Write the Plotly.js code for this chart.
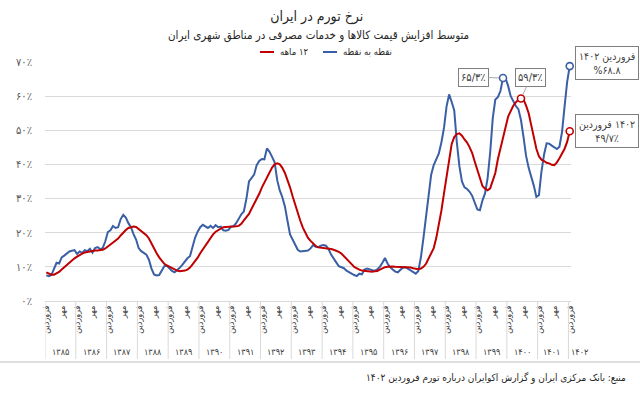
<!DOCTYPE html>
<html><head><meta charset="utf-8">
<script src="https://cdn.plot.ly/plotly-3.0.1.min.js"></script>
<style>html,body{margin:0;padding:0;background:#fff}#chart{width:640px;height:395px}</style>
</head><body><div id="chart"></div>
<script>
// ---- data ----
const years = ['۱۳۸۵','۱۳۸۶','۱۳۸۷','۱۳۸۸','۱۳۸۹','۱۳۹۰','۱۳۹۱','۱۳۹۲','۱۳۹۳','۱۳۹۴','۱۳۹۵','۱۳۹۶','۱۳۹۷','۱۳۹۸','۱۳۹۹','۱۴۰۰','۱۴۰۱','۱۴۰۲'];
const halfYearMonths = ['فروردین','مهر'];
const seriesNames = ['نقطه به نقطه','\u200Eماهه\u200E ۱۲'];

// monthly point-to-point inflation (%), Farvardin 1385 .. Farvardin 1402
const pointToPoint = [
  7.5, 7.3, 7.6, 9.5, 11.2, 11.0, 12.8, 13.3, 14.0, 14.5, 14.7, 14.9,
  13.8, 14.5, 14.1, 14.9, 14.6, 15.3, 14.2, 15.5, 15.8, 15.2, 15.5, 17.5,
  20.2, 20.7, 22.0, 21.4, 21.6, 24.0, 25.2, 24.4, 22.8, 21.6, 19.6, 18.0,
  15.5, 14.6, 14.1, 13.6, 12.1, 9.5, 7.8, 7.5, 7.6, 8.8, 10.2, 10.3,
  9.4, 8.8, 8.4, 9.0, 9.7, 10.6, 11.6, 12.5, 13.1, 15.8, 18.6, 20.3,
  21.6, 22.3, 21.8, 21.4, 22.0, 21.4, 22.2, 21.6, 21.8, 20.7, 20.6, 20.8,
  21.8, 21.9, 22.8, 24.2, 25.4, 26.2, 30.0, 35.0, 36.0, 37.0, 39.8, 41.0,
  41.6, 41.5, 44.7, 43.7, 42.2, 40.6, 35.4, 32.4, 30.4, 27.7, 23.5, 19.5,
  18.0, 16.5, 15.0, 14.5, 14.6, 14.5, 14.8, 15.4, 16.4, 15.9, 15.8, 16.2,
  16.4, 16.2, 15.2, 13.6, 12.3, 11.3, 10.2, 9.8, 9.6, 8.9, 8.4, 7.9,
  7.6, 7.3, 8.0, 7.8, 9.2, 9.5, 9.3, 9.0, 8.8, 9.3, 10.0, 11.2,
  12.6, 11.0, 9.9, 9.2, 8.6, 8.4, 9.1, 9.8, 9.9, 9.4, 8.9, 8.4,
  8.0, 8.8, 12.8, 18.5, 25.0, 32.0, 37.0, 39.8, 41.8, 43.2, 46.5, 50.7,
  57.0, 60.5, 58.3, 55.8, 46.5, 39.5, 35.0, 33.3, 32.8, 32.0, 30.8, 28.5,
  26.8, 26.6, 29.5, 31.5, 36.0, 43.5, 53.5, 59.0, 59.7, 61.5, 65.3, 65.2,
  63.0, 60.0, 58.6, 57.1, 56.2, 53.0, 48.0, 42.5, 39.0, 36.6, 33.8, 30.5,
  31.0, 38.0, 42.9, 46.2, 46.1, 45.5, 45.1, 44.5, 45.2, 49.5, 57.0, 64.2,
  68.8
];

// monthly 12-month average inflation (%)
const twelveMonth = [
  8.4, 8.0, 7.7, 7.7, 8.1, 8.5, 9.2, 9.9, 10.6, 11.3, 11.9, 12.5,
  13.0, 13.5, 13.9, 14.2, 14.4, 14.6, 14.7, 14.8, 14.8, 14.9, 15.0, 15.4,
  16.0, 16.5, 17.1, 17.7, 18.3, 19.2, 20.1, 20.8, 21.4, 21.7, 21.8, 21.7,
  21.1, 20.6, 20.0, 19.3, 18.3, 16.8, 15.3, 14.0, 12.8, 11.7, 10.9, 10.4,
  10.0, 9.6, 9.2, 8.9, 8.7, 8.7, 8.9, 9.2, 9.8, 10.7, 11.6, 12.7,
  14.0, 15.1, 16.0, 17.2, 18.5, 19.5, 20.3, 20.8, 21.3, 21.6, 21.7, 21.7,
  21.7, 21.8, 21.9, 22.0, 22.6, 23.6, 24.5, 25.5, 27.0, 28.4, 29.9, 31.4,
  33.2, 34.8, 36.4, 37.8, 39.1, 40.0, 40.3, 40.0, 39.0, 37.5, 35.5, 33.3,
  30.7, 28.2, 25.3, 23.5, 21.5, 19.8, 18.5, 17.6, 16.8, 16.1, 15.7, 15.6,
  15.6, 15.6, 15.5, 15.2, 15.0, 14.8, 14.4, 13.9, 13.2, 12.4, 11.6, 10.8,
  10.0, 9.5, 9.2, 8.9, 8.8, 8.8, 8.7, 8.6, 8.7, 8.8, 9.2, 9.6,
  9.9, 10.0, 10.1, 10.1, 10.0, 10.0, 10.0, 10.0, 10.0, 9.9, 9.8, 9.6,
  9.4, 9.3, 9.5, 10.0, 10.9, 12.4, 14.0, 15.5, 18.5, 22.0, 26.5, 31.5,
  36.5, 42.0, 46.0, 48.0, 48.9, 49.1, 48.4, 47.3, 46.4, 45.0, 43.3, 40.8,
  38.5, 35.8, 33.7, 32.9, 32.4, 33.0, 35.0, 37.5, 41.5, 44.7, 48.3, 51.2,
  54.0, 55.6, 57.2, 58.2, 59.0, 59.3, 59.0, 57.2, 55.0, 51.5, 48.0, 44.6,
  42.4, 41.4, 41.0, 40.5, 40.3, 39.9, 39.8, 40.6, 41.8, 43.0, 44.6, 46.6,
  49.7
];

const yTickValues = [0, 10, 20, 30, 40, 50, 60, 70];
const yTickLabels = ['۰٪','۱۰٪','۲۰٪','۳۰٪','۴۰٪','۵۰٪','۶۰٪','۷۰٪'];

// highlighted points (month index) and their labels
const blueHighlights = [178, 204];
const redHighlights = [185, 204];
const peakLabels = ['۶۵/۳٪', '۵۹/۳٪'];
const endLabelBlue = '\u200Fفروردین ۱۴۰۲<br>%۶۸.۸';
const endLabelRed = '\u200Eفروردین\u200E ۱۴۰۲<br>۴۹/۷٪';
const titleText = 'نرخ تورم در ایران';
const subtitleText = 'متوسط افزایش قیمت کالاها و خدمات مصرفی در مناطق شهری ایران';
const sourceText = 'منبع: بانک مرکزی ایران و گزارش اکوایران درباره تورم فروردین ۱۴۰۲';

// ---- build ----
const FONT = '"DejaVu Sans Condensed", "DejaVu Sans", sans-serif';
const BLUE = '#3a5fa5';
const RED = '#c00000';
const N = pointToPoint.length;
const xIdx = pointToPoint.map((_, i) => i);

const tickvals = [], ticktext = [];
for (let k = 0; k < years.length; k++) {
  for (let h = 0; h < 2; h++) {
    const v = 12 * k + 6 * h;
    if (v < N) { tickvals.push(v); ticktext.push(halfYearMonths[h]); }
  }
}

const traces = [
  {x: xIdx, y: pointToPoint, name: seriesNames[0], type: 'scatter', mode: 'lines',
   line: {color: BLUE, width: 2}, hoverinfo: 'skip'},
  {x: xIdx, y: twelveMonth, name: seriesNames[1], type: 'scatter', mode: 'lines',
   line: {color: RED, width: 2}, hoverinfo: 'skip'},
  {x: blueHighlights, y: blueHighlights.map(i => pointToPoint[i]), type: 'scatter', mode: 'markers',
   marker: {symbol: 'circle', size: 7, color: '#fff', line: {color: BLUE, width: 1.6}}, cliponaxis: false, hoverinfo: 'skip'},
  {x: redHighlights, y: redHighlights.map(i => twelveMonth[i]), type: 'scatter', mode: 'markers',
   marker: {symbol: 'circle', size: 7, color: '#fff', line: {color: RED, width: 1.6}}, cliponaxis: false, hoverinfo: 'skip'}
];

const L = 45, R = 69, T = 62, B = 94, W = 640, H = 395;
const pw = W - L - R, ph = H - T - B;
const px = (x) => (x - L) / pw;          // pixel -> paper x
const py = (y) => (H - B - y) / ph;      // pixel -> paper y

const shapes = [];
for (let k = 0; k < years.length; k++) {
  const xb = 12 * k - 0.5;
  shapes.push({type: 'line', xref: 'x', yref: 'paper', x0: xb, x1: xb, y0: 0, y1: py(359),
               line: {color: '#d9d9d9', width: 1}});
}
shapes.push({type: 'line', xref: 'paper', yref: 'paper', x0: px(0), x1: px(640), y0: py(362), y1: py(362),
             line: {color: '#bfbfbf', width: 1}});
// legend swatches
shapes.push({type: 'line', xref: 'paper', yref: 'paper', x0: px(260), x1: px(274), y0: py(52), y1: py(52),
             line: {color: RED, width: 2}});
shapes.push({type: 'line', xref: 'paper', yref: 'paper', x0: px(323), x1: px(337), y0: py(52), y1: py(52),
             line: {color: BLUE, width: 2}});

const txt = '#262626';
const annotations = [
  {xref: 'paper', yref: 'paper', x: px(318), y: py(35), text: subtitleText, showarrow: false,
   xanchor: 'center', yanchor: 'middle', font: {family: FONT, size: 11.5, color: txt}},
  {xref: 'paper', yref: 'paper', x: px(278), y: py(51), text: seriesNames[1], showarrow: false,
   xanchor: 'left', yanchor: 'middle', font: {family: FONT, size: 9.5, color: txt}},
  {xref: 'paper', yref: 'paper', x: px(341), y: py(51), text: seriesNames[0], showarrow: false,
   xanchor: 'left', yanchor: 'middle', font: {family: FONT, size: 9.5, color: txt}},
  {xref: 'paper', yref: 'paper', x: px(628), y: py(378), text: sourceText, showarrow: false,
   xanchor: 'right', yanchor: 'middle', font: {family: FONT, size: 10, color: txt}},
  {x: blueHighlights[0], y: pointToPoint[blueHighlights[0]], text: peakLabels[0], showarrow: true,
   arrowhead: 0, arrowwidth: 1, arrowcolor: '#a6a6a6', ax: -30, ay: -1, standoff: 4,
   bordercolor: '#7f7f7f', borderwidth: 1, borderpad: 2, bgcolor: '#fff',
   font: {family: FONT, size: 11, color: '#404040'}},
  {x: redHighlights[0], y: twelveMonth[redHighlights[0]], text: peakLabels[1], showarrow: true,
   arrowhead: 0, arrowwidth: 1, arrowcolor: '#a6a6a6', ax: 10, ay: -21, standoff: 4,
   bordercolor: '#7f7f7f', borderwidth: 1, borderpad: 2, bgcolor: '#fff',
   font: {family: FONT, size: 11, color: '#404040'}},
  {x: blueHighlights[1], y: pointToPoint[blueHighlights[1]], text: endLabelBlue, showarrow: false,
   xanchor: 'left', yanchor: 'middle', xshift: 5, yshift: 3,
   bordercolor: '#7f7f7f', borderwidth: 1, borderpad: 3, bgcolor: '#fff',
   font: {family: FONT, size: 10.5, color: '#404040'}},
  {x: redHighlights[1], y: twelveMonth[redHighlights[1]], text: endLabelRed, showarrow: false,
   xanchor: 'left', yanchor: 'middle', xshift: 5, yshift: 0,
   bordercolor: '#7f7f7f', borderwidth: 1, borderpad: 3, bgcolor: '#fff',
   font: {family: FONT, size: 10.5, color: '#404040'}}
];
years.forEach((yr, k) => {
  const last = 12 * k + 11 >= N;
  annotations.push({xref: 'x', yref: 'paper', x: last ? N - 1 : 12 * k + 5.5, y: py(352),
    xshift: last ? 10 : (k === years.length - 2 ? -2 : 0), text: yr, showarrow: false,
    xanchor: 'center', yanchor: 'middle',
    font: {family: FONT, size: 9, color: '#404040'}});
});

const layout = {
  width: W, height: H,
  margin: {l: L, r: R, t: T, b: B},
  paper_bgcolor: '#fff', plot_bgcolor: '#fff',
  showlegend: false,
  font: {family: FONT},
  title: {text: titleText, x: 0.495, xref: 'container', xanchor: 'center',
          y: 1 - 16 / H, yref: 'container', yanchor: 'middle',
          font: {family: FONT, size: 14, color: txt}},
  xaxis: {range: [-0.5, N - 0.5], tickvals: tickvals, ticktext: ticktext, tickangle: -90,
          tickfont: {family: FONT, size: 9, color: '#404040'}, showgrid: false, zeroline: false,
          showline: true, linecolor: '#d9d9d9', linewidth: 1, ticks: '', fixedrange: true},
  yaxis: {range: [0, 70], tickvals: yTickValues, ticktext: yTickLabels, showgrid: true,
          gridcolor: '#d9d9d9', gridwidth: 1, zeroline: false, showline: false, ticks: '',
          ticklabelstandoff: 12, tickfont: {family: FONT, size: 11, color: '#595959'}, fixedrange: true},
  shapes: shapes,
  annotations: annotations
};

Plotly.newPlot('chart', traces, layout, {displayModeBar: false, staticPlot: true});
</script>
</body></html>
